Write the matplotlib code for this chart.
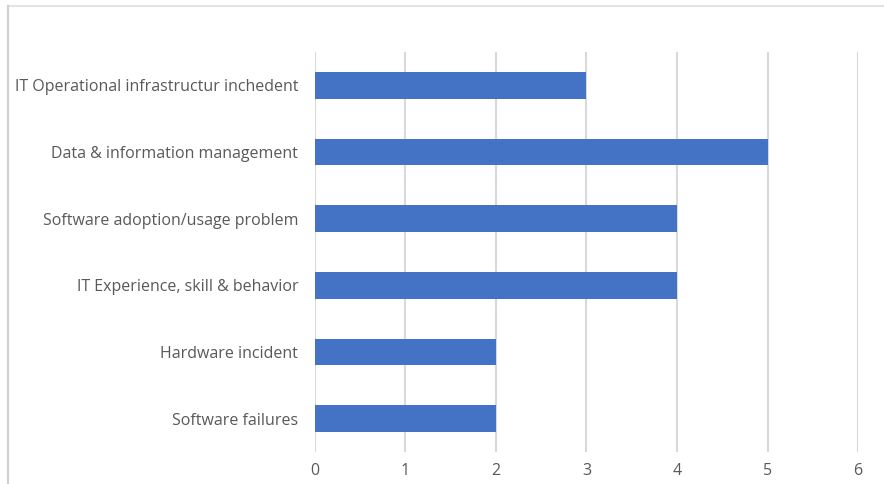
import matplotlib.pyplot as plt
from matplotlib.lines import Line2D

categories = [
    "Software failures",
    "Hardware incident",
    "IT Experience, skill & behavior",
    "Software adoption/usage problem",
    "Data & information management",
    "IT Operational infrastructur inchedent",
]
counts = [2, 2, 4, 4, 5, 3]
x_ticks = [0, 1, 2, 3, 4, 5, 6]

text_color = "#595959"
grid_color = "#D9D9D9"
bar_color = "#4472C4"

plt.rcParams["font.family"] = ["Open Sans", "DejaVu Sans"]

fig = plt.figure(figsize=(8.84, 4.84), dpi=100)
ax = fig.add_axes([0.3563, 0.0661, 0.6143, 0.8264])

ax.barh(range(len(categories)), counts, height=0.4, color=bar_color, zorder=3)

ax.set_xlim(0, 6)
ax.set_ylim(-0.5, len(categories) - 0.5)
ax.set_xticks(x_ticks)
ax.set_yticks(range(len(categories)))
ax.set_yticklabels(categories)
ax.tick_params(axis="both", length=0, colors=text_color, labelsize=11.5)
ax.tick_params(axis="x", pad=8)
ax.tick_params(axis="y", pad=12)

ax.grid(axis="x", color=grid_color, linewidth=1.5, zorder=0)
for side in ax.spines:
    ax.spines[side].set_visible(False)

# thin chart frame along the top and left edges
fig.add_artist(Line2D([8 / 884, 1.0], [1 - 6 / 484, 1 - 6 / 484],
                      color="#E3E3E3", linewidth=1.5))
fig.add_artist(Line2D([8 / 884, 8 / 884], [0.0, 1 - 6 / 484],
                      color="#D0D0D0", linewidth=1.5))

fig.savefig("out.png", dpi=100)
